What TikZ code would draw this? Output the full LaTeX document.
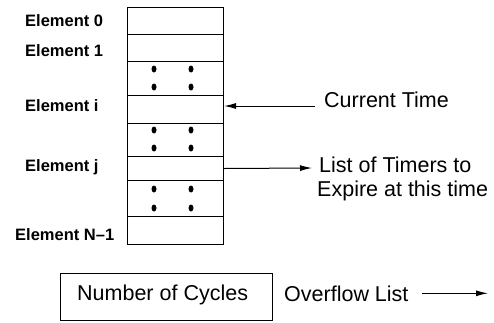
\documentclass[tikz,border=0pt]{standalone}
\usepackage{fontspec}
\setmainfont{Liberation Sans}
\usetikzlibrary{arrows.meta}
\begin{document}
\begin{tikzpicture}[x=1pt,y=-1pt,
  cell/.style={draw,line width=1pt,rectangle,inner sep=0pt,anchor=north west,
    minimum width=96pt},
  elabel/.style={anchor=base west,inner sep=0pt,font=\fontsize{16.5}{19}\selectfont\bfseries},
  txt/.style={anchor=base west,inner sep=0pt,font=\fontsize{21.5}{24}\selectfont},
  arr/.style={line width=1pt,-{Latex[length=12pt,width=6pt]}}]
\useasboundingbox (0,0) rectangle (494,322);

% the timer wheel column
\node[cell,minimum height=27pt] (e0) at (127,7) {};
\node[cell,minimum height=27pt] (e1) at (127,34) {};
\node[cell,minimum height=34pt] (g1) at (127,61) {};
\node[cell,minimum height=28pt] (ei) at (127,95) {};
\node[cell,minimum height=33pt] (g2) at (127,123) {};
\node[cell,minimum height=24pt] (ej) at (127,156) {};
\node[cell,minimum height=36pt] (g3) at (127,180) {};
\node[cell,minimum height=28pt] (en) at (127,216) {};

% ellipsis dots in the gap cells
\foreach \ya/\yb in {69/87, 130/148, 189/208}{
  \foreach \xx in {154,191}{
    \fill (\xx,\ya) ellipse (2.5pt and 3.5pt);
    \fill (\xx,\yb) ellipse (2.5pt and 3.5pt);
  }
}

% element labels
\node[elabel] (l0) at (25,26.7) {Element 0};
\node[elabel] (l1) at (25,56.7) {Element 1};
\node[elabel] (li) at (25,111.7) {Element i};
\node[elabel] (lj) at (25,171) {Element j};
\node[elabel] (ln) at (15,240) {Element N\textendash 1};

% current time pointer
\node[txt] (ct) at (324,107) {Current Time};
\coordinate (cts) at (315,106);
\draw[arr] (cts) -- (cts -| ei.east);

% list of timers
\node[txt] (lt1) at (319,172.7) {List of Timers to};
\node[txt] (lt2) at (317,196.7) {Expire at this time};
\coordinate (lte) at (312,168);
\draw[arr] (ej.east) -- (lte);

% overflow counter
\node[draw,line width=1pt,rectangle,inner sep=0pt,anchor=north west,
  minimum width=212pt,minimum height=47pt] (nc) at (60,273) {};
\node[txt] (nct) at (77,300) {Number of Cycles};
\node[txt] (ov) at (284,301.5) {Overflow List};
\coordinate (ova) at (422,293.3);
\coordinate (ovb) at (488,293.3);
\draw[arr] (ova) -- (ovb);
\end{tikzpicture}
\end{document}
